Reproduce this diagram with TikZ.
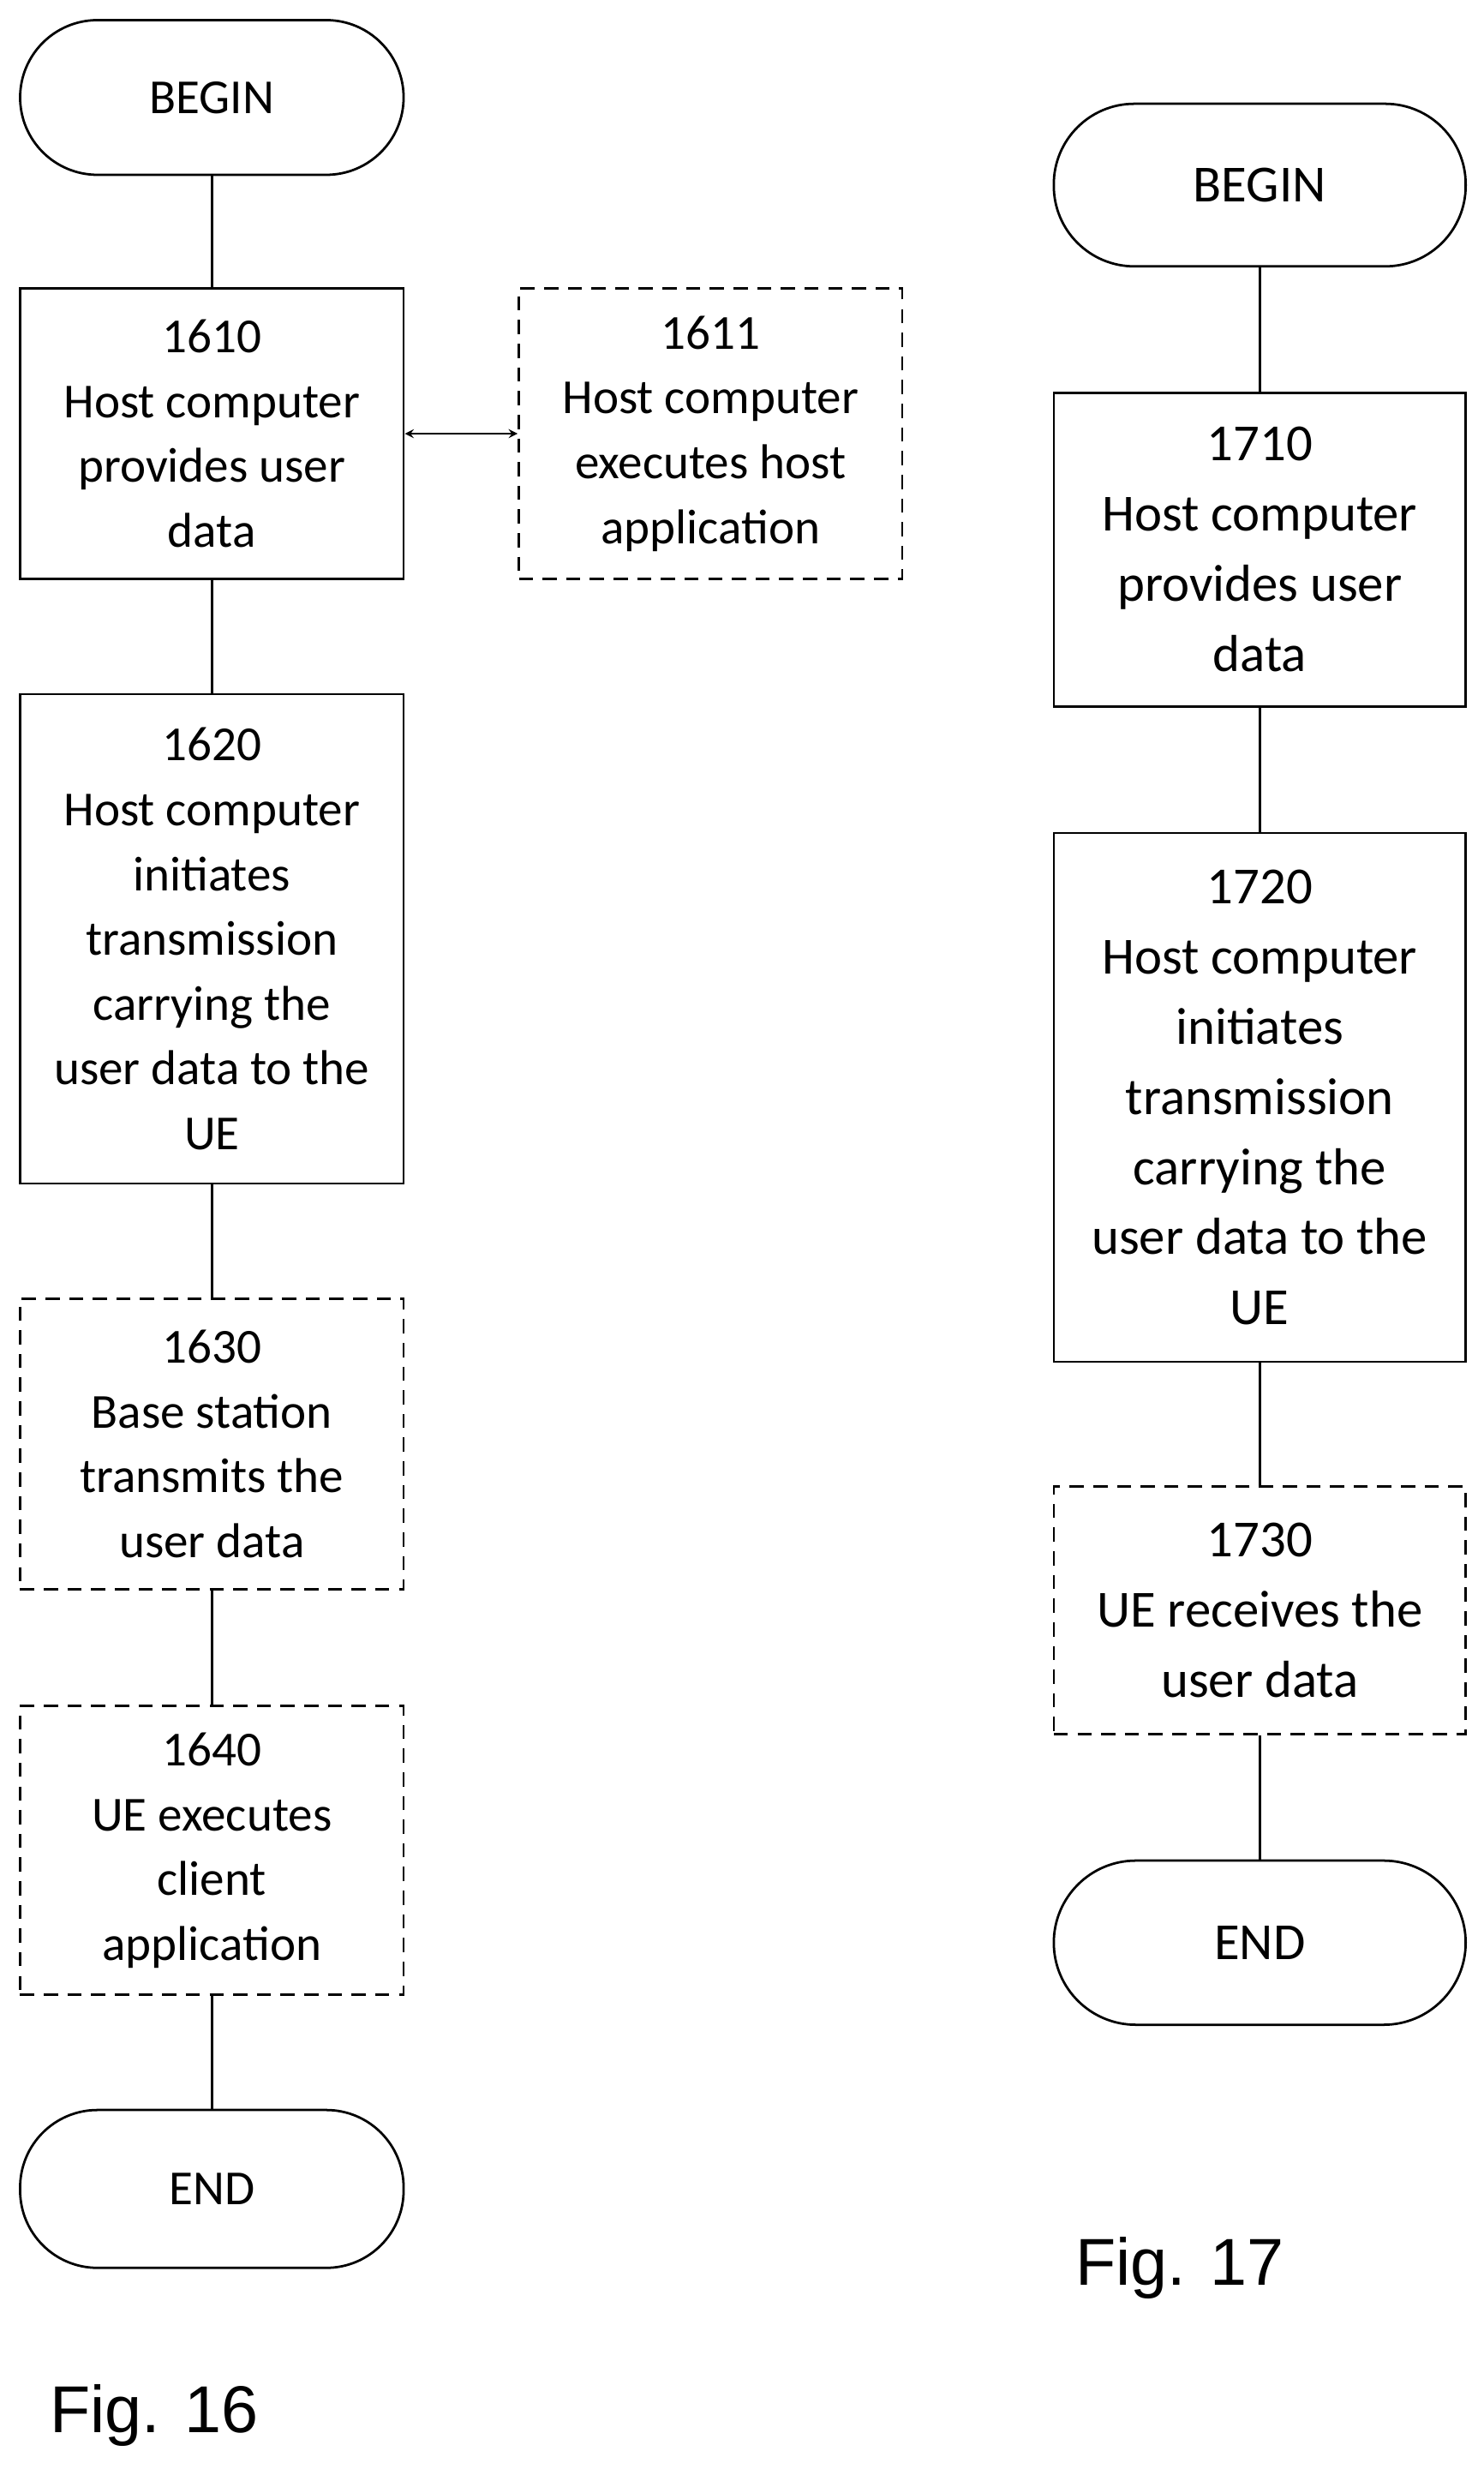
\documentclass[tikz,border=0pt]{standalone}
\usepackage{fontspec}
\setmainfont{Carlito}
\newfontfamily\figfont{Liberation Sans}
\begin{document}
\begin{tikzpicture}[x=1pt,y=-1pt,
  box/.style={draw,line width=1.5pt,align=center,inner sep=0pt,anchor=north west},
  dbox/.style={box,dash pattern=on 9pt off 6pt},
  stad/.style={draw,line width=1.5pt,rounded corners=49pt,anchor=north west,inner sep=0pt},
  lt/.style={font=\fontsize{31}{41}\selectfont},
  rt/.style={font=\fontsize{33}{44.5}\selectfont},
  conn/.style={line width=1.5pt}]
\useasboundingbox (0,0) rectangle (940,1568);
% left column
\node[stad,lt,minimum width=243pt,minimum height=98pt] (b1) at (12,12) {BEGIN};
\node[box,lt,minimum width=243pt,minimum height=184pt] (n1610) at (12,182) {1610\\Host computer\\provides user\\data};
\node[dbox,lt,minimum width=243pt,minimum height=184pt] (n1611) at (328,182) {1611\\Host computer\\executes host\\application};
\node[box,lt,minimum width=243pt,minimum height=310pt] (n1620) at (12,439) {1620\\Host computer\\initiates\\transmission\\carrying the\\user data to the\\UE};
\node[dbox,lt,minimum width=243pt,minimum height=184pt] (n1630) at (12,822) {1630\\Base station\\transmits the\\user data};
\node[dbox,lt,minimum width=243pt,minimum height=183pt] (n1640) at (12,1080) {1640\\UE executes\\client\\application};
\node[stad,lt,minimum width=243pt,minimum height=100pt] (e1) at (12,1336) {END};
\node[font=\figfont\fontsize{42}{50}\selectfont,anchor=west] (f16) at (28,1530) {Fig. 16};
\draw[conn] (b1) -- (n1610);
\draw[conn,<->,>=stealth] (n1610) -- (n1611);
\draw[conn] (n1610) -- (n1620);
\draw[conn] (n1620) -- (n1630);
\draw[conn] (n1630) -- (n1640);
\draw[conn] (n1640) -- (e1);
% right column
\node[stad,rt,minimum width=261pt,minimum height=103pt,rounded corners=51pt] (b2) at (667,65) {BEGIN};
\node[box,rt,minimum width=261pt,minimum height=199pt] (n1710) at (667,248) {1710\\Host computer\\provides user\\data};
\node[box,rt,minimum width=261pt,minimum height=335pt] (n1720) at (667,527) {1720\\Host computer\\initiates\\transmission\\carrying the\\user data to the\\UE};
\node[dbox,rt,minimum width=261pt,minimum height=157pt] (n1730) at (667,941) {1730\\UE receives the\\user data};
\node[stad,rt,minimum width=261pt,minimum height=104pt,rounded corners=52pt] (e2) at (667,1178) {END};
\node[font=\figfont\fontsize{42}{50}\selectfont,anchor=west] (f17) at (678,1437) {Fig. 17};
\draw[conn] (b2) -- (n1710);
\draw[conn] (n1710) -- (n1720);
\draw[conn] (n1720) -- (n1730);
\draw[conn] (n1730) -- (e2);
\end{tikzpicture}
\end{document}
